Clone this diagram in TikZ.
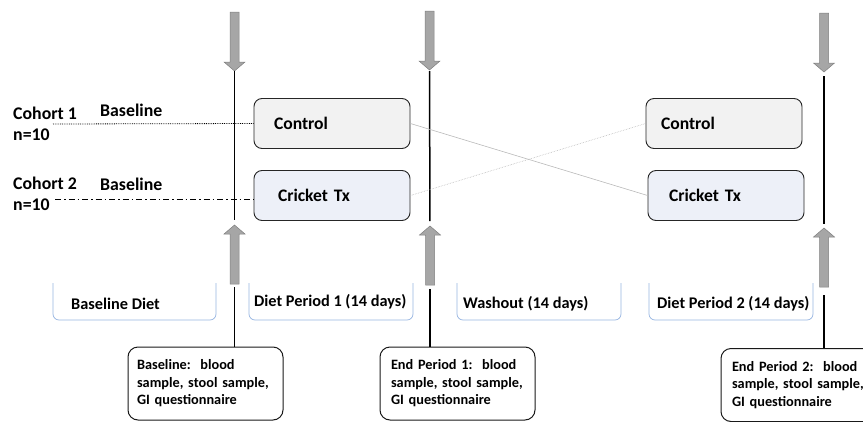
\documentclass[tikz,border=0pt]{standalone}
\usepackage{fontspec}
\setmainfont{Carlito}

\definecolor{arrowgray}{RGB}{166,166,166}
\definecolor{arrowedge}{RGB}{128,128,128}
\definecolor{ctrlfill}{RGB}{242,242,242}
\definecolor{txfill}{RGB}{237,240,248}
\definecolor{bracketblue}{RGB}{150,180,225}
\definecolor{crossgray}{RGB}{185,185,185}

\begin{document}
\begin{tikzpicture} [
    x=1pt, y=-1pt,
    txt/.style      = { inner sep=0pt, anchor=west, align=left,
                        font=\fontsize{17.8}{21}\selectfont\bfseries },
    ptxt/.style     = { inner sep=0pt, anchor=west,
                        font=\fontsize{16.3}{19}\selectfont\bfseries },
    group/.style    = { rectangle, rounded corners=8pt, draw=black!85,
                        line width=0.9pt, minimum width=156pt,
                        minimum height=50pt, align=left, inner ysep=0pt,
                        font=\fontsize{17.6}{21}\selectfont\bfseries },
    note/.style     = { rectangle, rounded corners=10pt, draw=black!90,
                        line width=1pt, minimum width=155pt,
                        minimum height=73pt, align=left,
                        font=\fontsize{14.3}{17.5}\selectfont\bfseries },
    tline/.style    = { draw, line width=1.5pt, black },
    bracket/.style  = { draw=bracketblue, line width=0.7pt, rounded corners=6pt },
    cross/.style    = { draw=crossgray, line width=0.6pt },
    arr/.style      = { fill=arrowgray, draw=arrowedge, line width=0.5pt },
    darr/.pic       = { \path[arr] (-4.5,0) -- (4.5,0) -- (4.5,50) -- (10.5,50)
                          -- (0,59) -- (-10.5,50) -- (-4.5,50) -- cycle;
                        \coordinate (-tip) at (0,59);
                        \coordinate (-tail) at (0,0); },
  ]
  \useasboundingbox (0,0) rectangle (863,421);
  \clip (0,0) rectangle (863,421);

  % cohorts
  \node[txt] (cohA) at (13,123.5) {Cohort 1\\n=10};
  \node[txt] (cohB) at (13,193.5) {Cohort 2\\n=10};
  \node[txt] (baseA) at (100,110) {Baseline};
  \node[txt] (baseB) at (100,184) {Baseline};

  % diet groups
  \node[group, fill=ctrlfill, inner xsep=20pt, text width=116pt] (ctrlA) at (332,123.5) {Control};
  \node[group, fill=txfill, inner xsep=24pt, text width=108pt] (txA) at (332,195.5) {Cricket Tx};
  \node[group, fill=ctrlfill, inner xsep=15pt, text width=126pt] (ctrlB) at (724,123.5) {Control};
  \node[group, fill=txfill, inner xsep=21pt, text width=114pt] (txB) at (726,195.5) {Cricket Tx};

  % sample boxes
  \node[note, inner xsep=9pt, text width=137pt] (smpA) at (205.5,383.5)
    {Baseline:~~blood\\\mbox{sample, stool sample,}\\GI questionnaire};
  \node[note, inner xsep=11pt, text width=133pt] (smpB) at (457.5,383.5)
    {End Period 1:~~blood\\\mbox{sample, stool sample,}\\GI questionnaire};
  \node[note, inner xsep=11pt, text width=133pt] (smpC) at (798.5,385)
    {End Period 2:~~blood\\\mbox{sample, stool sample,}\\GI questionnaire};

  % periods
  \foreach \xa/\xb in {53/216, 249/413, 457/621, 649/813}
    \path[bracket] (\xa,283) -- (\xa,320) -- (\xb,320) -- (\xb,283);
  \node[ptxt] (perA) at (71,304) {Baseline Diet};
  \node[ptxt] (perB) at (254,302) {Diet Period 1 (14 days)};
  \node[ptxt] (perC) at (463,304) {Washout (14 days)};
  \node[ptxt] (perD) at (657,304) {Diet Period 2 (14 days)};

  % time points
  \pic (dA) at (234.5,12) {darr};
  \pic (dB) at (429.5,11) {darr};
  \pic (dC) at (824,13) {darr};
  \pic[rotate=180] (uA) at (234.5,284) {darr};
  \pic[rotate=180] (uB) at (430,285) {darr};
  \pic[rotate=180] (uC) at (824,287) {darr};

  \path[tline, shorten >=5pt] (dA-tip) -- (uA-tip);
  \path[tline, shorten <=1pt, shorten >=5pt] (dB-tip) -- (uB-tip);
  \path[tline, shorten <=4pt, shorten >=4pt] (dC-tip) -- (uC-tip);
  \path[tline, shorten <=3pt] (uA-tail) -- (smpA.north -| uA-tail);
  \path[tline, shorten <=4pt] (uB-tail) -- (smpB.north -| uB-tail);
  \path[tline, shorten <=8pt] (uC-tail) -- (smpC.north -| uC-tail);

  % cohort lines and cross-over
  \coordinate (startA) at (53,124);
  \coordinate (startB) at (55,199);
  \draw[densely dotted, line width=0.8pt] (startA) -- (ctrlA.west);
  \draw[line width=0.8pt, dash pattern=on 6pt off 3pt on 1.5pt off 3pt]
    (startB) -- (startB -| txA.west);
  \path[cross] (ctrlA.east) -- (txB.west);
  \path[cross, densely dotted] (txA.east) -- (ctrlB.west);
\end{tikzpicture}
\end{document}
